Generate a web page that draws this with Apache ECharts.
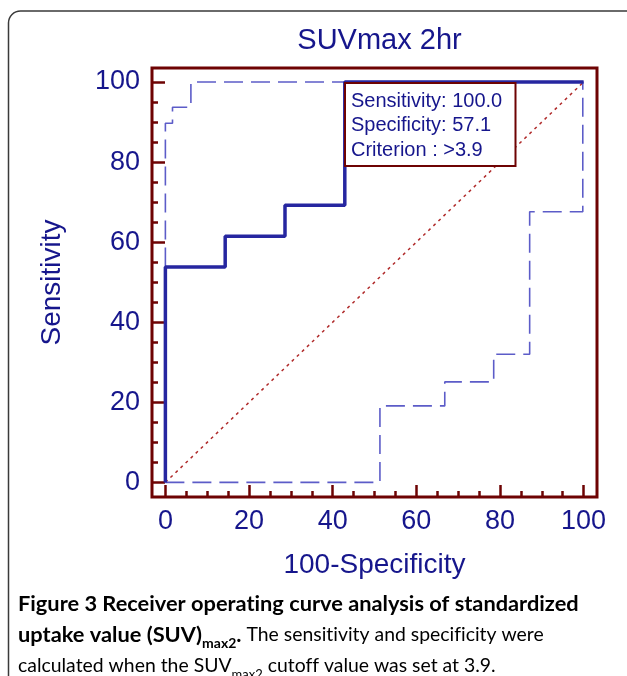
<!DOCTYPE html>
<html>
<head>
<meta charset="utf-8">
<script src="https://cdn.jsdelivr.net/npm/echarts@6/dist/echarts.min.js"></script>
<style>
html,body{margin:0;padding:0;background:#fff;}
#chart{width:627px;height:676px;}
</style>
</head>
<body>
<div id="chart"></div>
<script>
// ROC curve (100-Specificity, Sensitivity)
var rocX = [0, 0, 14.3, 14.3, 28.6, 28.6, 42.9, 42.9, 100];
var rocY = [0, 53.8, 53.8, 61.5, 61.5, 69.2, 69.2, 100, 100];
// Upper confidence bound
var upX = [0, 0, 1.7, 1.7, 6.1, 6.1, 100];
var upY = [0, 89.7, 89.7, 93.7, 93.7, 100, 100];
// Lower confidence bound
var loX = [0, 51.3, 51.3, 66.8, 66.8, 78.5, 78.5, 87.1, 87.1, 99.8, 99.8];
var loY = [0, 0, 19.1, 19.1, 25.1, 25.1, 32.0, 32.0, 67.6, 67.6, 100];
// Reference diagonal
var diagX = [0, 100];
var diagY = [0, 100];
// Ticks
var majorTicks = [0, 20, 40, 60, 80, 100];
var minorTicks = [0, 5, 10, 15, 20, 25, 30, 35, 40, 45, 50, 55, 60, 65, 70, 75, 80, 85, 90, 95, 100];
var tickLabels = [0, 20, 40, 60, 80, 100];
// Texts
var titleText = 'SUVmax 2hr';
var xName = '100-Specificity';
var yName = 'Sensitivity';
var boxLines = ['Sensitivity: 100.0', 'Specificity: 57.1', 'Criterion : >3.9'];

function pairs(xs, ys) { return xs.map(function (x, i) { return [x, ys[i]]; }); }
// break typographic ligatures (fi, ff, ti...) with zero-width non-joiners
function nl(s) { return s.replace(/([ft])(?=[fitl])/g, '$1\u200C'); }

var NAVY = '#16168c';
var FRAME = '#6e0303';
var FONT = '"Liberation Sans", Arial, sans-serif';

function mkAxis(isX, showLabels, ticks, len) {
  var a = {
    type: 'value',
    min: isX ? -3.2 : -3.65,
    max: isX ? 103.2 : 103.5,
    position: isX ? 'bottom' : 'left',
    axisLine: { show: false, onZero: false },
    splitLine: { show: false },
    axisTick: { show: true, inside: true, length: len, customValues: ticks, lineStyle: { color: FRAME, width: 2.5 } },
    axisLabel: showLabels ? {
      show: true, customValues: tickLabels, color: NAVY, fontSize: 27, fontFamily: FONT,
      margin: isX ? 11 : 12
    } : { show: false }
  };
  if (showLabels) {
    a.name = isX ? xName : yName;
    a.nameLocation = 'middle';
    a.nameGap = isX ? 54 : 86;
    a.nameTextStyle = { color: NAVY, fontSize: 28, fontFamily: FONT };
  }
  return a;
}

var chart = echarts.init(document.getElementById('chart'), null, { renderer: 'canvas' });
var boxX = 345, boxY = 83;
chart.setOption({
  animation: false,
  backgroundColor: '#fff',
  title: {
    text: titleText, left: 374.5, top: 21, textAlign: 'center',
    textStyle: { color: NAVY, fontSize: 29, fontWeight: 'normal', fontFamily: FONT }
  },
  grid: {
    left: 152, top: 68, width: 445, height: 429, show: true,
    borderColor: FRAME, borderWidth: 3, backgroundColor: 'transparent'
  },
  xAxis: [mkAxis(true, true, majorTicks, 12), mkAxis(true, false, minorTicks, 6)],
  yAxis: [mkAxis(false, true, majorTicks, 13), mkAxis(false, false, minorTicks, 6)],
  series: [
    { type: 'line', data: pairs(diagX, diagY), symbol: 'none', z: 2,
      lineStyle: { color: '#b02a2a', width: 1.5, type: [3, 4] } },
    { type: 'line', data: pairs(upX, upY), symbol: 'none', z: 3,
      lineStyle: { color: '#5c5cc8', width: 1.6, type: [19, 8] } },
    { type: 'line', data: pairs(loX, loY), symbol: 'none', z: 3,
      lineStyle: { color: '#5c5cc8', width: 1.6, type: [19, 8] } },
    { type: 'line', data: pairs(rocX, rocY), symbol: 'none', z: 4,
      lineStyle: { color: '#2626a0', width: 3.5 } }
  ],
  graphic: [
    { type: 'rect', z: 100, silent: true,
      shape: { x: 8.5, y: 11, width: 700, height: 720, r: 12 },
      style: { fill: 'none', stroke: '#3a3a3a', lineWidth: 1.5 } },
    { type: 'rect', z: 100,
      shape: { x: boxX, y: boxY, width: 170.5, height: 83 },
      style: { fill: '#fff', stroke: FRAME, lineWidth: 2 } },
    { type: 'text', z: 101, x: boxX + 6, y: boxY + 6,
      style: { text: boxLines.join('\n'), fill: NAVY, font: '20px ' + FONT, lineHeight: 24.5 } },
    { type: 'text', z: 101, x: 18, y: 588,
      style: {
        text: '{b|' + nl('Figure 3 Receiver operating curve analysis of standardized') + '}\n' +
              '{b|uptake value (SUV)}{bs|max2}{b|.}{r|' + nl(' The sensitivity and specificity were') + '}\n' +
              '{r|calculated when the SUV}{rs|max2}{r|' + nl(' cutoff value was set at 3.9.') + '}',
        rich: {
          b: { fontFamily: 'Lato', fontWeight: 'bold', fontSize: 21.8, color: '#231f20', lineHeight: 31 },
          bs: { fontFamily: 'Lato', fontWeight: 'bold', fontSize: 14, color: '#231f20', lineHeight: 18, verticalAlign: 'bottom' },
          r: { fontFamily: 'Lato', fontSize: 19.4, color: '#555555', lineHeight: 31 },
          rs: { fontFamily: 'Lato', fontSize: 13, color: '#555555', lineHeight: 18, verticalAlign: 'bottom' }
        }
      } }
  ]
});
</script>
</body>
</html>
